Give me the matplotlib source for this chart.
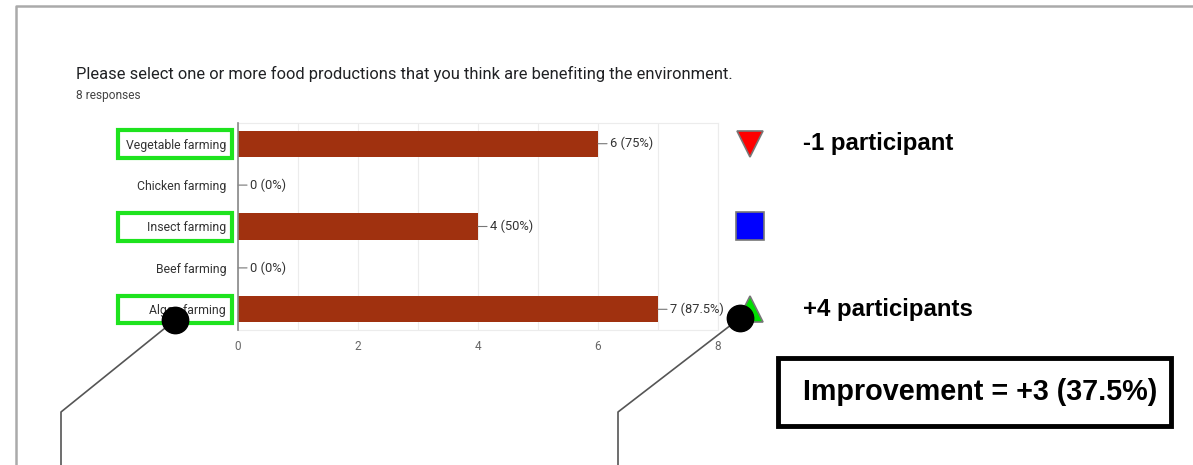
import matplotlib.pyplot as plt
from matplotlib.lines import Line2D
from matplotlib.patches import Rectangle

# data
categories = ['Vegetable farming', 'Chicken farming', 'Insect farming', 'Beef farming', 'Algae farming']
counts = [6, 0, 4, 0, 7]
n_responses = 8
highlighted = [0, 2, 4]
change_markers = ['v', 's', '^']
change_colors = ['#ff0000', '#0000ff', '#00e000']
change_texts = ['-1 participant', '', '+4 participants']
x_ticks = [0, 2, 4, 6, 8]

BAR_COLOR = '#a0310f'
GREEN = '#1ee31e'
W, H = 1193, 465

fig = plt.figure(figsize=(W / 100, H / 100), dpi=100)
fig.patch.set_facecolor('white')

# pixel overlay for the decorations (border, pointer lines)
over = fig.add_axes([0, 0, 1, 1], zorder=5)
over.set_xlim(0, W)
over.set_ylim(H, 0)
over.axis('off')
over.patch.set_alpha(0)

ax = fig.add_axes([238 / W, 1 - 330 / H, 480 / W, 207 / H], zorder=2)
ypos = list(range(len(categories)))
ax.barh(ypos, counts, height=0.63, color=BAR_COLOR, zorder=3)
ax.set_xlim(0, 8)
ax.set_ylim(len(categories) - 0.5, -0.5)
ax.set_xticks(range(0, 9))
ax.set_xticklabels([str(t) if t in x_ticks else '' for t in range(0, 9)],
                   family='Roboto', fontsize=8.5, color='#666666')
ax.tick_params(axis='x', length=0, pad=7)
ax.set_yticks(ypos)
ax.set_yticklabels(categories, family='Roboto', fontsize=8.8, color='#333333')
ax.tick_params(axis='y', length=0, pad=8.5)
ax.grid(axis='x', color='#ececec', linewidth=0.8, zorder=0)
for side in ['top', 'bottom', 'right']:
    ax.spines[side].set_color('#ececec')
    ax.spines[side].set_linewidth(0.8)
ax.spines['left'].set_color('#888888')
ax.spines['left'].set_linewidth(1.2)
ax.spines['left'].set_zorder(4)

for i, c in enumerate(counts):
    pct = c / n_responses * 100
    ax.annotate(f'{c} ({pct:g}%)', xy=(c, i), xytext=(8.5, 0), textcoords='offset points',
                ha='left', va='center', family='Roboto', fontsize=9.3, color='#333333',
                arrowprops=dict(arrowstyle='-', color='#777777', lw=0.8, shrinkA=0, shrinkB=0),
                annotation_clip=False, zorder=4)

# green boxes around highlighted labels
for i in highlighted:
    ax.add_patch(Rectangle((-2.0, i - 0.32), 1.9, 0.66, transform=ax.transData,
                           fill=False, edgecolor=GREEN, linewidth=3, clip_on=False, zorder=5))

# change markers and notes
for i, m, col, txt in zip(highlighted, change_markers, change_colors, change_texts):
    ms = 20 if m == 's' else 19
    ax.plot([8.53], [i], marker=m, markersize=ms, color=col, markeredgecolor='#777777',
            markeredgewidth=1.2, clip_on=False, zorder=5)
    if txt:
        ax.text(9.42, i, txt, ha='left', va='center', family='Liberation Sans',
                fontweight='bold', fontsize=17.3, color='black', clip_on=False)

# title
fig.text(76 / W, 1 - 74 / H, 'Please select one or more food productions that you think are benefiting the environment.',
         family='Roboto', fontsize=11.9, color='#202124', va='center')
fig.text(76 / W, 1 - 96 / H, f'{n_responses} responses', family='Roboto', fontsize=8.6,
         color='#444444', va='center')

# outer border
over.add_line(Line2D([16, 16, W], [H, 6, 6], color='#aaaaaa', linewidth=1.8))

# pointer lines with black dots
over.add_line(Line2D([175, 61, 61], [320, 412, H], color='#555555', linewidth=1.2))
over.add_line(Line2D([740, 618, 618], [318, 412, H], color='#555555', linewidth=1.2))
over.plot([175, 740], [320, 318], 'o', color='black', markersize=19)

# improvement box
over.add_patch(Rectangle((778, 358), 393, 68, fill=False, edgecolor='black', linewidth=3.5))
over.text(803, 392, 'Improvement = +3 (37.5%)', ha='left', va='center', family='Liberation Sans',
          fontweight='bold', fontsize=20.7)

fig.savefig('out.png', dpi=100, facecolor='white')
